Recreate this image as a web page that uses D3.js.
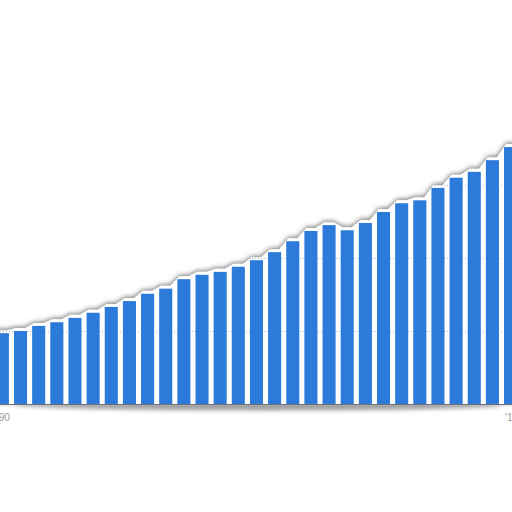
<!DOCTYPE html>
<html>
<head>
<meta charset="utf-8">
<script src="https://cdn.jsdelivr.net/npm/d3@7"></script>
<style>
  html, body { margin: 0; padding: 0; background: #fff; }
  svg { display: block; }
</style>
</head>
<body>
<div id="chart"></div>
<script>
const years = d3.range(1990, 2019)
const values = [97, 100, 107, 112, 118, 125, 133, 141, 151, 158,
  171, 177, 181, 188, 197, 208, 223, 237, 245, 238,
  248, 263, 275, 279, 296, 310, 318, 334, 352]
const gridValues = [100, 200, 300, 400]
const tickYears = [1990, 2018]
const tickLabels = ['\'90', '\'18']

const width = 512
const height = 512
const baseY = 404

const svg = d3.select('#chart').append('svg')
  .attr('width', width)
  .attr('height', height)

const defs = svg.append('defs')

const shadow = defs.append('filter')
  .attr('id', 'edge-shadow')
  .attr('x', '-10%').attr('y', '-10%')
  .attr('width', '120%').attr('height', '120%')
shadow.append('feGaussianBlur').attr('in', 'SourceAlpha').attr('stdDeviation', 2.6).attr('result', 'blur')
shadow.append('feOffset').attr('in', 'blur').attr('dy', -1.5).attr('result', 'off')
shadow.append('feFlood').attr('flood-color', '#707070').attr('flood-opacity', 1)
shadow.append('feComposite').attr('in2', 'off').attr('operator', 'in').attr('result', 'sh')
const merge = shadow.append('feMerge')
merge.append('feMergeNode').attr('in', 'sh')
merge.append('feMergeNode').attr('in', 'SourceGraphic')

const soft = defs.append('filter')
  .attr('id', 'soft')
  .attr('x', '-10%').attr('y', '-200%')
  .attr('width', '120%').attr('height', '500%')
soft.append('feGaussianBlur').attr('stdDeviation', 2)

const x = d3.scaleBand()
  .domain(years)
  .range([-4.15, 517.1])
  .paddingInner(0.28)
  .paddingOuter(0)

const y = d3.scaleLinear()
  .domain([0, 400])
  .range([baseY, baseY - 292])

// white "paper" behind the bars, its edge follows the bar tops loosely
const edgePts = [[-20, y(values[0]) - 3]]
years.forEach((yr, i) => {
  edgePts.push([x(yr) + 2, y(values[i]) - 3])
  edgePts.push([x(yr) + x.bandwidth() - 2, y(values[i]) - 3])
})
edgePts.push([width + 20, y(values[values.length - 1]) - 3])

// keep the edge above both neighbours across each gap
for (let i = 2; i < edgePts.length - 1; i += 2) {
  const hi = Math.min(edgePts[i - 1][1], edgePts[i][1])
  edgePts[i - 1][1] = Math.min(edgePts[i - 1][1], hi + 1)
}

const area = d3.area()
  .x(d => d[0])
  .y0(baseY)
  .y1(d => d[1])

defs.append('clipPath').attr('id', 'paper-clip')
  .append('path').attr('d', area(edgePts))

// soft shadow under the baseline
const x0 = x(1991)
const x1 = x(2017) + x.bandwidth()
svg.append('path')
  .attr('d', `M${x0},${baseY + 1} C${x0 + 60},${baseY + 8} ${x1 - 60},${baseY + 8} ${x1},${baseY + 2} L${x1},${baseY} L${x0},${baseY} Z`)
  .attr('fill', '#999')
  .attr('filter', 'url(#soft)')

svg.append('path')
  .attr('d', area(edgePts))
  .attr('fill', '#fff')
  .attr('filter', 'url(#edge-shadow)')

// dotted grid, only on the paper
svg.append('g')
  .attr('clip-path', 'url(#paper-clip)')
  .selectAll('line')
  .data(gridValues)
  .join('line')
  .attr('x1', 0)
  .attr('x2', width)
  .attr('y1', d => Math.round(y(d)) + 0.5)
  .attr('y2', d => Math.round(y(d)) + 0.5)
  .attr('stroke', '#aab8d0')
  .attr('stroke-dasharray', '1,2')

svg.append('g')
  .selectAll('rect')
  .data(years)
  .join('rect')
  .attr('x', d => x(d))
  .attr('y', (d, i) => y(values[i]))
  .attr('width', x.bandwidth())
  .attr('height', (d, i) => baseY - y(values[i]))
  .attr('fill', '#2c7ada')

svg.append('line')
  .attr('x1', 0)
  .attr('x2', width)
  .attr('y1', baseY + 0.5)
  .attr('y2', baseY + 0.5)
  .attr('stroke', '#6a6f78')
  .attr('stroke-width', 1)

svg.append('g')
  .selectAll('text')
  .data(tickYears)
  .join('text')
  .attr('x', d => x(d) + x.bandwidth() / 2 + 1)
  .attr('y', baseY + 17)
  .attr('text-anchor', 'middle')
  .attr('font-family', 'Liberation Sans, Arial, sans-serif')
  .attr('font-size', 10)
  .attr('fill', '#999')
  .text((d, i) => tickLabels[i])
</script>
</body>
</html>
